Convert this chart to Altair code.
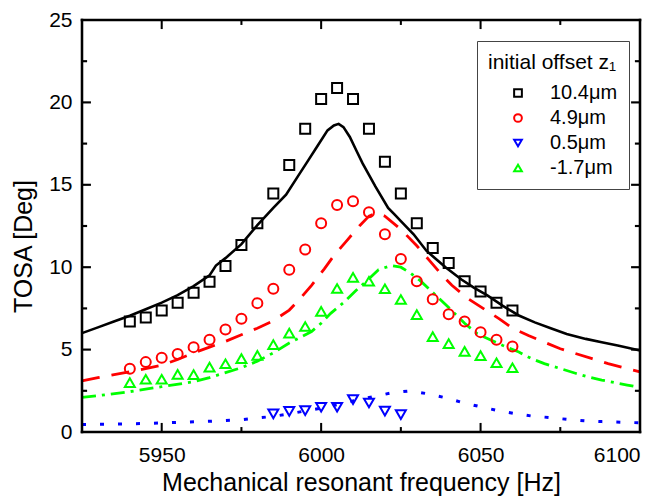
import altair as alt
import pandas as pd

# ---------------- data ----------------
series_labels = ["10.4\u03bcm", "4.9\u03bcm", "0.5\u03bcm", "-1.7\u03bcm"]
series_colors = ["#000000", "#ff0000", "#0000ff", "#00ff00"]
series_shapes = ["square", "circle", "triangle-down", "triangle-up"]

freq_pts = [5940, 5945, 5950, 5955, 5960, 5965, 5970, 5975, 5980, 5985, 5990, 5995,
            6000, 6005, 6010, 6015, 6020, 6025, 6030, 6035, 6040, 6045, 6050, 6055, 6060]
black_pts = [6.7, 6.95, 7.37, 7.84, 8.45, 9.12, 10.08, 11.35, 12.67, 14.47, 16.2, 18.4,
             20.2, 20.88, 20.2, 18.4, 16.4, 14.47, 12.67, 11.17, 10.25, 9.15, 8.53, 7.84, 7.37]
red_pts = [3.84, 4.24, 4.5, 4.73, 5.15, 5.6, 6.22, 6.87, 7.82, 8.69, 9.84, 11.07,
           12.67, 13.78, 14.0, 13.33, 12.0, 10.5, 9.15, 8.06, 7.15, 6.7, 6.06, 5.6, 5.19]
green_pts = [3.0, 3.2, 3.2, 3.5, 3.48, 3.94, 4.14, 4.45, 4.65, 5.3, 6.0, 6.4,
             7.32, 8.71, 9.38, 9.15, 8.69, 8.04, 7.12, 5.79, 5.36, 4.89, 4.63, 4.2, 3.9]
freq_blue = [5985, 5990, 5995, 6000, 6005, 6010, 6015, 6020, 6025]
blue_pts = [1.1, 1.25, 1.3, 1.5, 1.5, 1.96, 1.76, 1.27, 1.05]

black_line_f = [5925, 5930, 5935, 5940, 5945, 5950, 5955, 5960, 5965, 5967, 5970, 5975, 5980,
                5985, 5989, 5993, 5996, 5999, 6002, 6004, 6005.5, 6007, 6009, 6011, 6013, 6017,
                6021, 6023, 6025, 6029, 6033, 6036, 6039, 6044, 6048, 6052, 6057, 6062, 6067,
                6072, 6077, 6083, 6088, 6093, 6100]
black_line_v = [6.0, 6.35, 6.7, 7.05, 7.45, 7.85, 8.3, 8.85, 9.5, 10.1, 10.55, 11.4, 12.55,
                13.6, 14.4, 15.6, 16.5, 17.4, 18.3, 18.6, 18.7, 18.5, 17.9, 17.1, 16.3, 14.9,
                13.6, 13.2, 12.8, 12.0, 11.0, 10.5, 10.0, 9.25, 8.75, 8.3, 7.65, 7.07, 6.65,
                6.3, 5.95, 5.65, 5.45, 5.25, 4.95]

red_line_f = [5925, 5930, 5940, 5950, 5955, 5960, 5965, 5970, 5975, 5980, 5985, 5990, 5993,
              5997, 6001, 6004, 6008, 6012, 6015, 6017.5, 6020, 6025, 6030, 6034, 6038, 6041,
              6046, 6052, 6056, 6060, 6065, 6070, 6075, 6080, 6085, 6090, 6095, 6100]
red_line_v = [3.1, 3.3, 3.65, 4.05, 4.4, 4.8, 5.15, 5.5, 5.9, 6.3, 6.75, 7.4, 8.0,
              8.9, 9.9, 10.7, 11.6, 12.5, 13.1, 13.3, 13.1, 12.3, 11.3, 10.4, 9.5, 8.9,
              8.1, 7.35, 6.85, 6.3, 5.85, 5.45, 5.05, 4.75, 4.45, 4.15, 3.9, 3.65]

green_line_f = [5925, 5930, 5940, 5950, 5960, 5965, 5970, 5975, 5980, 5985, 5990, 5994, 5997,
                6000, 6003, 6007, 6011, 6015, 6018, 6022, 6025, 6028, 6031, 6034, 6037, 6040,
                6045, 6049, 6053, 6057, 6062, 6066, 6070, 6075, 6080, 6084, 6088, 6092, 6096, 6100]
green_line_v = [2.1, 2.2, 2.45, 2.75, 3.05, 3.3, 3.6, 3.9, 4.3, 4.8, 5.4, 5.8, 6.1,
                6.6, 7.2, 7.85, 8.6, 9.3, 9.85, 10.1, 10.0, 9.65, 9.2, 8.65, 8.1, 7.55,
                6.6, 5.95, 5.6, 5.25, 4.85, 4.45, 4.15, 3.85, 3.55, 3.33, 3.15, 3.0, 2.85, 2.7]

blue_line_f = [5925, 5935, 5945, 5955, 5965, 5975, 5985, 5990, 5995, 6000, 6005, 6010, 6014,
               6017, 6022, 6028, 6033, 6039, 6044, 6050, 6055, 6061, 6066, 6072, 6077, 6083,
               6088, 6094, 6100]
blue_line_v = [0.45, 0.48, 0.52, 0.58, 0.65, 0.75, 0.95, 1.1, 1.28, 1.45, 1.65, 1.88, 2.05,
               2.17, 2.37, 2.5, 2.33, 2.08, 1.8, 1.53, 1.32, 1.11, 0.97, 0.87, 0.77, 0.67,
               0.63, 0.59, 0.56]

x_ticks = [5950, 6000, 6050, 6100]
y_ticks = [0, 5, 10, 15, 20, 25]
x_major_inner = [5950, 6000, 6050]
x_minor_inner = [5975, 6025, 6075]
y_major_inner = [5, 10, 15, 20]
y_minor_inner = [2.5, 7.5, 12.5, 17.5, 22.5]

# ---------------- tables ----------------
pts = pd.DataFrame({
    "f": freq_pts * 3 + freq_blue,
    "v": black_pts + red_pts + green_pts + blue_pts,
    "s": [series_labels[0]] * len(freq_pts) + [series_labels[1]] * len(freq_pts)
         + [series_labels[3]] * len(freq_pts) + [series_labels[2]] * len(freq_blue),
})

X_DOM = [5925, 6100]
Y_DOM = [0, 25]
x_scale = alt.Scale(domain=X_DOM, nice=False, zero=False)
y_scale = alt.Scale(domain=Y_DOM, nice=False, zero=False)

x_axis = alt.Axis(values=x_ticks, format="d", title="Mechanical resonant frequency [Hz]",
                  tickSize=0, labelPadding=12, domain=False, grid=False,
                  labelFontSize=21, titleFontSize=25, titleFontWeight="normal",
                  titleBaseline="alphabetic", titleY=58, labelColor="black", titleColor="black")
y_axis = alt.Axis(values=y_ticks, title="TOSA [Deg]", tickSize=0, labelPadding=10,
                  domain=False, grid=False, labelFontSize=21, titleFontSize=25,
                  titleFontWeight="normal", titleBaseline="alphabetic", titleX=-51, titleY=226,
                  titleAngle=-90, titleAlign="center",
                  labelColor="black", titleColor="black")


def X(field="f"):
    return alt.X(f"{field}:Q", scale=x_scale, axis=x_axis)


def Y(field="v"):
    return alt.Y(f"{field}:Q", scale=y_scale, axis=y_axis)


def line_layer(fs, vs, color, dash, width):
    df = pd.DataFrame({"f": fs, "v": vs})
    kw = dict(color=color, strokeWidth=width)
    if dash:
        kw["strokeDash"] = dash
    return alt.Chart(df).mark_line(**kw).encode(x=X(), y=Y(), order=alt.Order("f:Q"))


black_line = line_layer(black_line_f, black_line_v, "#000000", None, 2.6)
red_line = line_layer(red_line_f, red_line_v, "#ff0000", [18, 12], 2.8)
green_line = line_layer(green_line_f, green_line_v, "#00ff00", [14, 6, 3, 6], 2.8)
blue_line = line_layer(blue_line_f, blue_line_v, "#0000ff", [4, 14], 3)

legend = alt.Legend(title="initial offset z\u2081", orient="none",
                    legendX=395, legendY=21,
                    strokeColor="#444444", fillColor="white", padding=11,
                    titleFontSize=21, labelFontSize=20, titleFontWeight="normal",
                    titleColor="black", labelColor="black", symbolSize=60,
                    symbolStrokeWidth=2, rowPadding=5, titlePadding=10,
                    symbolOffset=20, labelOffset=22)

points = alt.Chart(pts).mark_point(filled=False, size=100, strokeWidth=2, opacity=1).encode(
    x=X(), y=Y(),
    color=alt.Color("s:N", scale=alt.Scale(domain=series_labels, range=series_colors), legend=legend),
    shape=alt.Shape("s:N", scale=alt.Scale(domain=series_labels, range=series_shapes), legend=legend),
)

# frame and inward ticks as thin filled bars, placed through the data scales
FX = 0.8    # frame thickness in x-units (~2.5 px)
FY = 0.16   # frame thickness in y-units (~2.5 px)
TX = 0.32   # tick thickness in x-units (~1 px half-width)
TY = 0.065  # tick thickness in y-units (~1 px half-width)
MAJ_Y, MIN_Y = 0.55, 0.3   # tick length in y-units
MAJ_X, MIN_X = 2.8, 1.6    # tick length in x-units

bars = [
    # frame: bottom, top, left, right
    {"f": X_DOM[0] - FX / 2, "f2": X_DOM[1] + FX / 2, "v": Y_DOM[0] - FY / 2, "v2": Y_DOM[0] + FY / 2},
    {"f": X_DOM[0] - FX / 2, "f2": X_DOM[1] + FX / 2, "v": Y_DOM[1] - FY / 2, "v2": Y_DOM[1] + FY / 2},
    {"f": X_DOM[0] - FX / 2, "f2": X_DOM[0] + FX / 2, "v": Y_DOM[0] - FY / 2, "v2": Y_DOM[1] + FY / 2},
    {"f": X_DOM[1] - FX / 2, "f2": X_DOM[1] + FX / 2, "v": Y_DOM[0] - FY / 2, "v2": Y_DOM[1] + FY / 2},
]
for vals, ln in ((x_major_inner, MAJ_Y), (x_minor_inner, MIN_Y)):
    for xv in vals:
        bars.append({"f": xv - TX, "f2": xv + TX, "v": Y_DOM[0], "v2": Y_DOM[0] + ln})
        bars.append({"f": xv - TX, "f2": xv + TX, "v": Y_DOM[1] - ln, "v2": Y_DOM[1]})
for vals, ln in ((y_major_inner, MAJ_X), (y_minor_inner, MIN_X)):
    for yv in vals:
        bars.append({"f": X_DOM[0], "f2": X_DOM[0] + ln, "v": yv - TY, "v2": yv + TY})
        bars.append({"f": X_DOM[1] - ln, "f2": X_DOM[1], "v": yv - TY, "v2": yv + TY})
bars_df = pd.DataFrame(bars)
frame = alt.Chart(bars_df).mark_rect(color="#000000", opacity=1).encode(
    x=X(), x2="f2:Q", y=Y(), y2="v2:Q")

chart = alt.layer(
    black_line, red_line, green_line, blue_line, points, frame,
).properties(
    width=558, height=412,
    autosize=alt.AutoSizeParams(type="none"),
    padding={"left": 74, "top": 12, "right": 12, "bottom": 64},
    background="white",
).configure(
    font="Liberation Sans"
).configure_view(
    stroke="#000000", strokeWidth=2
)

chart.save("out.html", embed_options={"renderer": "svg", "actions": False})
